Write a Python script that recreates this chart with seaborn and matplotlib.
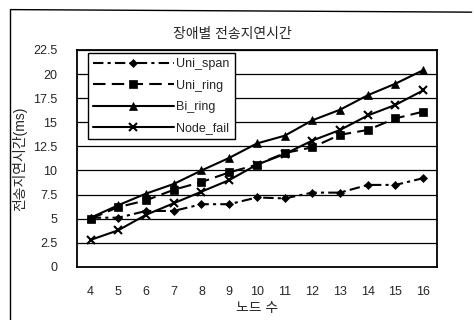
import matplotlib
matplotlib.use("Agg")
import matplotlib.pyplot as plt
import seaborn as sns
import numpy as np
import pandas as pd
from matplotlib.lines import Line2D

nodes = [4, 5, 6, 7, 8, 9, 10, 11, 12, 13, 14, 15, 16]
uni_span = [5.1, 5.1, 5.8, 5.8, 6.5, 6.5, 7.2, 7.1, 7.7, 7.7, 8.5, 8.5, 9.2]
uni_ring = [5.0, 6.2, 6.9, 8.0, 8.8, 9.8, 10.6, 11.8, 12.4, 13.7, 14.2, 15.4, 16.1]
bi_ring = [5.1, 6.4, 7.6, 8.6, 10.0, 11.3, 12.8, 13.6, 15.2, 16.3, 17.8, 19.0, 20.4]
node_fail = [2.8, 3.8, 5.4, 6.6, 7.8, 9.0, 10.6, 11.7, 13.1, 14.2, 15.7, 16.8, 18.3]
series_names = ["Uni_span", "Uni_ring", "Bi_ring", "Node_fail"]
yticks = [0, 2.5, 5, 7.5, 10, 12.5, 15, 17.5, 20, 22.5]
title = "장애별 전송지연시간"
xlabel = "노드 수"
ylabel = "전송지연시간(ms)"

sns.set_theme(style="white")
plt.rcParams["font.family"] = ["Liberation Sans", "Noto Sans CJK KR", "DejaVu Sans"]

rows = []
for name, vals in zip(series_names, [uni_span, uni_ring, bi_ring, node_fail]):
    for i, (n, v) in enumerate(zip(nodes, vals)):
        rows.append({"pos": i, "node": n, "value": v, "series": name})
df = pd.DataFrame(rows)

fig = plt.figure(figsize=(4.74, 3.20), dpi=100)
ax = fig.add_axes([0.162, 0.166, 0.760, 0.678])

styles = {
    "Uni_span": dict(linestyle=(0, (5, 2, 1.5, 2)), marker="D", markersize=4.5),
    "Uni_ring": dict(linestyle=(0, (6, 3)), marker="s", markersize=6),
    "Bi_ring": dict(linestyle="-", marker="^", markersize=6),
    "Node_fail": dict(linestyle="-", marker="x", markersize=6, markeredgewidth=1.5),
}
handles = []
for name in series_names:
    sub = df[df["series"] == name]
    st = styles[name]
    sns.lineplot(data=sub, x="pos", y="value", ax=ax, color="black", lw=1.5,
                 linestyle=st["linestyle"], marker=st["marker"], markersize=st["markersize"],
                 markeredgewidth=st.get("markeredgewidth", 0.5), markeredgecolor="black",
                 markerfacecolor="black", legend=False, zorder=3)
    handles.append(Line2D([], [], color="black", lw=1.5, linestyle=st["linestyle"],
                          marker=st["marker"], markersize=st["markersize"],
                          markeredgewidth=st.get("markeredgewidth", 0.5),
                          markerfacecolor="black", markeredgecolor="black"))

ax.set_xlim(-0.5, len(nodes) - 0.5)
ax.set_ylim(0, 22.5)
ax.set_yticks(yticks)
ax.set_yticklabels([f"{t:g}" for t in yticks], fontsize=9)
ax.set_xticks(range(len(nodes)))
ax.set_xticklabels([str(n) for n in nodes], fontsize=9)
ax.tick_params(axis="x", length=0, pad=14)
ax.tick_params(axis="y", length=0, pad=14)
ax.set_xticks(np.arange(-0.5, len(nodes), 1), minor=True)
ax.tick_params(axis="x", which="minor", direction="in", length=3, color="black")
for t in yticks[1:]:
    ax.axhline(t, color="black", lw=0.9, zorder=1)
for s in ax.spines.values():
    s.set_color("black")
    s.set_linewidth(1.3)

ax.set_xlabel(xlabel, fontsize=10, labelpad=2)
ax.set_ylabel(ylabel, fontsize=10, labelpad=4)
fig.text(0.49, 0.895, title, ha="center", va="center", fontsize=10)

leg = ax.legend(handles, series_names, loc="upper left", bbox_to_anchor=(0.03, 0.985),
                frameon=True, fancybox=False, fontsize=9, handlelength=6.5,
                handletextpad=0.2, borderpad=0.4, labelspacing=0.75, borderaxespad=0)
leg.get_frame().set_edgecolor("black")
leg.get_frame().set_linewidth(1.0)
leg.get_frame().set_facecolor("white")
leg.get_frame().set_alpha(1)

# scanned page frame
fig.add_artist(Line2D([0.022, 0.022], [0.0, 0.97], color="black", lw=1, transform=fig.transFigure))
fig.add_artist(Line2D([0.022, 0.995], [0.97, 0.962], color="black", lw=1, transform=fig.transFigure))

fig.savefig("out.png", dpi=100, facecolor="white")
